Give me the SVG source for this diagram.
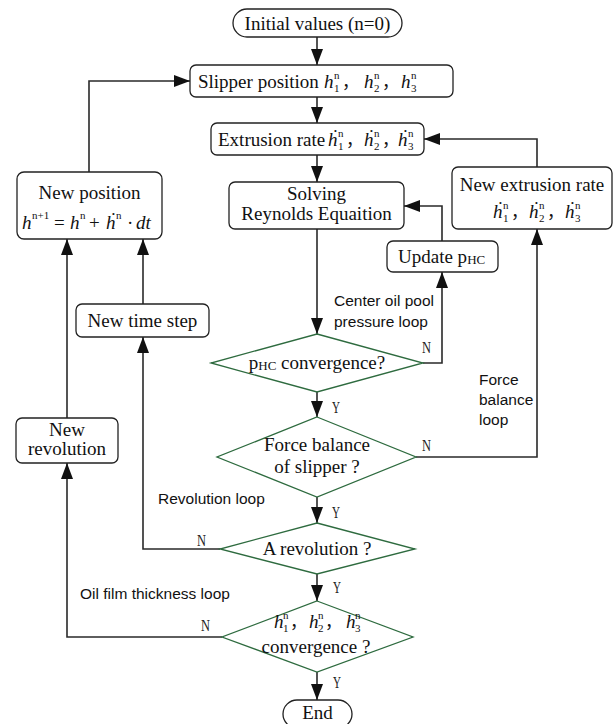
<svg xmlns="http://www.w3.org/2000/svg" width="614" height="724" viewBox="0 0 614 724">
<style>
.box{fill:#fff;stroke:#222;stroke-width:1.3}
.dia{fill:#fff;stroke:#2e6b3f;stroke-width:1.3}
.ln{fill:none;stroke:#2a2a2a;stroke-width:1.6}
.t{font-family:"Liberation Serif","DejaVu Serif",serif;font-size:19px;fill:#111}
.i{font-style:italic}
.sm{font-size:11px}
.sc{font-size:13px}
.cm{font-family:"Liberation Serif","Noto Sans CJK SC",serif;font-size:17px}
.s{font-family:"Liberation Sans",Arial,sans-serif;font-size:15.5px;fill:#111}
.yn{font-family:"Liberation Serif",serif;font-size:16px;fill:#222}
</style>
<defs>
<marker id="ah" viewBox="0 0 16 12" refX="16" refY="6" markerWidth="16" markerHeight="12" markerUnits="userSpaceOnUse" orient="auto">
<path d="M0,0 L16,6 L0,12 z" fill="#111"/>
</marker>
</defs>

<g id="connectors">
<path class="ln" d="M317,37 V65" marker-end="url(#ah)"/>
<path class="ln" d="M317,97 V123" marker-end="url(#ah)"/>
<path class="ln" d="M317,155 V182" marker-end="url(#ah)"/>
<path class="ln" d="M317,229 V334" marker-end="url(#ah)"/>
<path class="ln" d="M423,363 H442 V272" marker-end="url(#ah)"/>
<path class="ln" d="M442,241 V206 H404" marker-end="url(#ah)"/>
<path class="ln" d="M317,392 V417" marker-end="url(#ah)"/>
<path class="ln" d="M416,457 H537 V229" marker-end="url(#ah)"/>
<path class="ln" d="M537,167 V139 H424" marker-end="url(#ah)"/>
<path class="ln" d="M317,497 V523" marker-end="url(#ah)"/>
<path class="ln" d="M220,549 H143 V337" marker-end="url(#ah)"/>
<path class="ln" d="M143,304 V239" marker-end="url(#ah)"/>
<path class="ln" d="M317,574 V601" marker-end="url(#ah)"/>
<path class="ln" d="M222,637 H67 V463" marker-end="url(#ah)"/>
<path class="ln" d="M67,418 V239" marker-end="url(#ah)"/>
<path class="ln" d="M89,172 V81 H190" marker-end="url(#ah)"/>
<path class="ln" d="M317,672 V700" marker-end="url(#ah)"/>
<text class="yn" x="422" y="353" textLength="9" lengthAdjust="spacingAndGlyphs">N</text>
<text class="yn" x="422" y="451" textLength="9" lengthAdjust="spacingAndGlyphs">N</text>
<text class="yn" x="197" y="546" textLength="9" lengthAdjust="spacingAndGlyphs">N</text>
<text class="yn" x="201" y="631" textLength="9" lengthAdjust="spacingAndGlyphs">N</text>
<text class="yn" x="332" y="413" textLength="8" lengthAdjust="spacingAndGlyphs">Y</text>
<text class="yn" x="332" y="518" textLength="8" lengthAdjust="spacingAndGlyphs">Y</text>
<text class="yn" x="333" y="593" textLength="8" lengthAdjust="spacingAndGlyphs">Y</text>
<text class="yn" x="333" y="688" textLength="8" lengthAdjust="spacingAndGlyphs">Y</text>
<text class="s" x="334" y="306">Center oil pool</text>
<text class="s" x="334" y="327">pressure loop</text>
<text class="s" x="479" y="385">Force</text>
<text class="s" x="479" y="405">balance</text>
<text class="s" x="479" y="425">loop</text>
<text class="s" x="158" y="504">Revolution loop</text>
<text class="s" x="80" y="599">Oil film thickness loop</text>
</g>

<g id="initial">
<rect class="box" x="233" y="9" width="169" height="28" rx="14"/>
<text class="t" x="317.5" y="30" text-anchor="middle">Initial values (n=0)</text>
</g>

<g id="slipper">
<rect class="box" x="190" y="65" width="263" height="32" rx="6"/>
<text class="t" x="198" y="88">Slipper position</text>
<text class="t"><tspan class="i" x="324" y="88">h</tspan><tspan class="sm" x="334" y="92">1</tspan><tspan class="sm" x="334" y="79">n</tspan><tspan class="cm" x="342" y="88">，</tspan></text>
<text class="t"><tspan class="i" x="364" y="88">h</tspan><tspan class="sm" x="374" y="92">2</tspan><tspan class="sm" x="374" y="79">n</tspan><tspan class="cm" x="382" y="88">，</tspan></text>
<text class="t"><tspan class="i" x="401" y="88">h</tspan><tspan class="sm" x="411" y="92">3</tspan><tspan class="sm" x="411" y="79">n</tspan></text>
</g>

<g id="extrusion">
<rect class="box" x="211" y="123" width="213" height="32" rx="6"/>
<text class="t" x="218" y="146">Extrusion rate</text>
<text class="t"><tspan class="i" x="328" y="146">ḣ</tspan><tspan class="sm" x="338" y="150">1</tspan><tspan class="sm" x="338" y="137">n</tspan><tspan class="cm" x="346" y="146">，</tspan></text>
<text class="t"><tspan class="i" x="364" y="146">ḣ</tspan><tspan class="sm" x="374" y="150">2</tspan><tspan class="sm" x="374" y="137">n</tspan><tspan class="cm" x="382" y="146">，</tspan></text>
<text class="t"><tspan class="i" x="398" y="146">ḣ</tspan><tspan class="sm" x="408" y="150">3</tspan><tspan class="sm" x="408" y="137">n</tspan></text>
</g>

<g id="solving">
<rect class="box" x="229" y="182" width="175" height="47" rx="6"/>
<text class="t" x="316.5" y="200" text-anchor="middle">Solving</text>
<text class="t" x="316.5" y="220" text-anchor="middle">Reynolds Equaition</text>
</g>

<g id="update">
<rect class="box" x="387" y="241" width="111" height="31" rx="6"/>
<text class="t" x="398" y="263">Update p<tspan class="sc" dy="1">HC</tspan></text>
</g>

<g id="newextrusion">
<rect class="box" x="452" y="167" width="160" height="62" rx="6"/>
<text class="t" x="532" y="191" text-anchor="middle">New extrusion rate</text>
<text class="t"><tspan class="i" x="493" y="218">ḣ</tspan><tspan class="sm" x="503" y="222">1</tspan><tspan class="sm" x="503" y="209">n</tspan><tspan class="cm" x="511" y="218">，</tspan></text>
<text class="t"><tspan class="i" x="529" y="218">ḣ</tspan><tspan class="sm" x="539" y="222">2</tspan><tspan class="sm" x="539" y="209">n</tspan><tspan class="cm" x="547" y="218">，</tspan></text>
<text class="t"><tspan class="i" x="565" y="218">ḣ</tspan><tspan class="sm" x="575" y="222">3</tspan><tspan class="sm" x="575" y="209">n</tspan></text>
</g>

<g id="newposition">
<rect class="box" x="17" y="172" width="145" height="67" rx="7"/>
<text class="t" x="89.5" y="199" text-anchor="middle">New position</text>
<text class="t"><tspan class="i" x="22" y="229">h</tspan><tspan font-size="11" x="32" y="219">n+1</tspan><tspan x="54" y="229">=</tspan><tspan class="i" x="70" y="229">h</tspan><tspan font-size="11" x="80" y="219">n</tspan><tspan x="89" y="229">+</tspan><tspan class="i" x="106" y="229">ḣ</tspan><tspan font-size="11" x="116" y="219">n</tspan><tspan x="127" y="229">·</tspan><tspan class="i" x="136" y="229">dt</tspan></text>
</g>

<g id="newtimestep">
<rect class="box" x="76" y="304" width="133" height="33" rx="6"/>
<text class="t" x="142.5" y="327" text-anchor="middle">New time step</text>
</g>

<g id="newrevolution">
<rect class="box" x="16" y="418" width="102" height="45" rx="6"/>
<text class="t" x="67" y="436" text-anchor="middle">New</text>
<text class="t" x="67" y="455" text-anchor="middle">revolution</text>
</g>

<g id="phc">
<polygon class="dia" points="317,334 423,363 317,392 211,363"/>
<text class="t" x="317" y="369" text-anchor="middle">p<tspan class="sc" dy="1">HC</tspan><tspan dy="-1"> convergence?</tspan></text>
</g>

<g id="forcebalance">
<polygon class="dia" points="317,417 416,457 317,497 217,457"/>
<text class="t" x="317" y="451" text-anchor="middle">Force balance</text>
<text class="t" x="317" y="473" text-anchor="middle">of slipper ?</text>
</g>

<g id="revolution">
<polygon class="dia" points="317,523 415,549 317,574 220,549"/>
<text class="t" x="317" y="555" text-anchor="middle">A revolution ?</text>
</g>

<g id="hconv">
<polygon class="dia" points="317,601 413,637 317,672 222,637"/>
<text class="t" font-size="18"><tspan class="i" x="274" y="628">h</tspan><tspan class="sm" x="283" y="632">1</tspan><tspan class="sm" x="283" y="619">n</tspan><tspan class="cm" x="290" y="628">，</tspan></text>
<text class="t" font-size="18"><tspan class="i" x="309" y="628">h</tspan><tspan class="sm" x="318" y="632">2</tspan><tspan class="sm" x="318" y="619">n</tspan><tspan class="cm" x="325" y="628">，</tspan></text>
<text class="t" font-size="18"><tspan class="i" x="346" y="628">h</tspan><tspan class="sm" x="355" y="632">3</tspan><tspan class="sm" x="355" y="619">n</tspan></text>
<text class="t" x="316" y="653" text-anchor="middle">convergence ?</text>
</g>

<g id="end">
<rect class="box" x="283" y="700" width="69" height="28" rx="14"/>
<text class="t" x="317.5" y="719" text-anchor="middle">End</text>
</g>
</svg>
